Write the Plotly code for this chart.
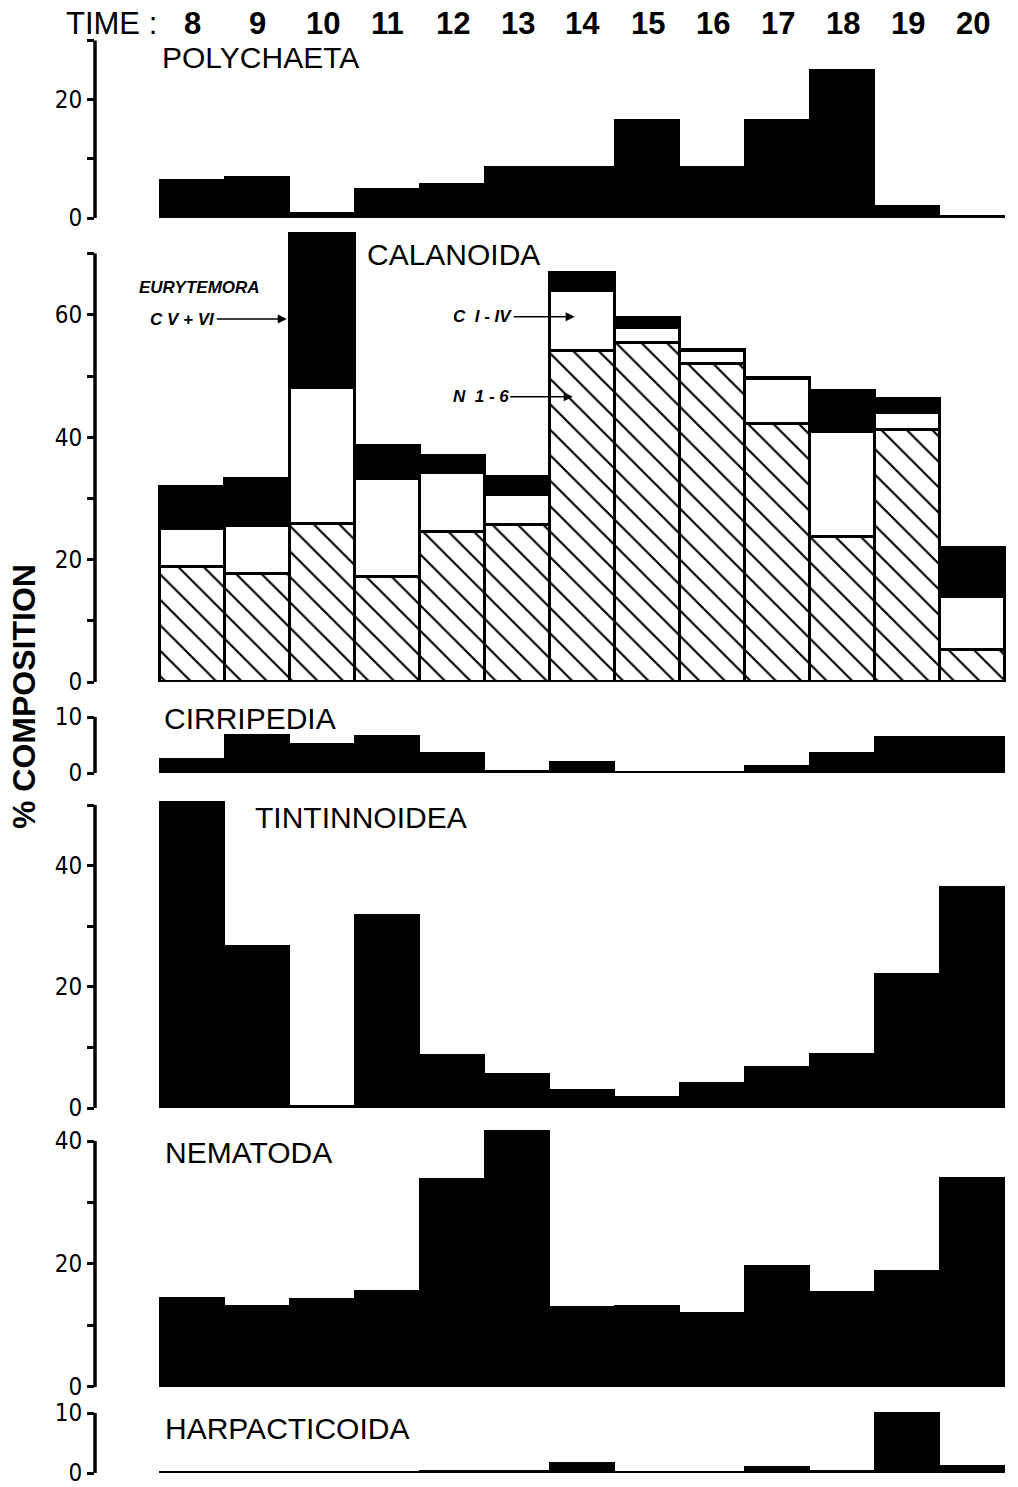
import plotly.graph_objects as go

W, H = 1018, 1487

# ---------------- data ----------------
times = [8, 9, 10, 11, 12, 13, 14, 15, 16, 17, 18, 19, 20]
time_labels = [str(t) for t in times]

polychaeta = [6.3, 6.8, 0.8, 4.9, 5.6, 8.5, 8.5, 16.4, 8.5, 16.4, 25.0, 2.0, 0.3]

# Calanoida, stacked components
cal_n1_6 = [18.8, 17.7, 25.8, 17.2, 24.5, 25.6, 54.0, 55.4, 52.0, 42.1, 23.7, 41.1, 5.2]
cal_c1_4 = [6.2, 7.7, 22.2, 16.0, 9.6, 4.9, 9.8, 2.4, 2.0, 7.4, 17.1, 2.9, 8.7]
cal_cv_vi = [6.9, 7.7, 25.2, 5.3, 2.8, 2.9, 3.0, 1.7, 0.3, 0.2, 6.8, 2.3, 8.0]

cirripedia = [2.5, 6.8, 5.2, 6.6, 3.6, 0.4, 2.0, 0.1, 0.1, 1.3, 3.6, 6.4, 6.4]
tintinnoidea = [50.5, 26.7, 0.3, 31.8, 8.8, 5.7, 3.0, 1.8, 4.1, 6.8, 8.9, 22.1, 36.4]
nematoda = [14.5, 13.2, 14.4, 15.7, 33.9, 41.7, 13.0, 13.3, 12.1, 19.8, 15.5, 18.9, 34.1]
harpacticoida = [0.2, 0.2, 0.2, 0.2, 0.3, 0.3, 1.7, 0.2, 0.2, 0.9, 0.3, 10.0, 1.1]

panel_names = ["POLYCHAETA", "CALANOIDA", "CIRRIPEDIA", "TINTINNOIDEA", "NEMATODA", "HARPACTICOIDA"]

# ---------------- layout geometry (pixels) ----------------
X_LEFT, X_RIGHT = 95, 1008
X_RANGE = [6.5, 6.5 + (X_RIGHT - X_LEFT) / 65.0]

geo = [
    dict(zero=218, scale=5.92, rmax=30.5, amax=30, tv=[0, 10, 20, 30], tt=["0", "", "20", ""]),
    dict(zero=682, scale=6.12, rmax=74, amax=70, tv=[0, 10, 20, 30, 40, 50, 60, 70],
         tt=["0", "", "20", "", "40", "", "60", ""]),
    dict(zero=773, scale=5.6, rmax=10, amax=10, tv=[0, 10], tt=["0", "10"]),
    dict(zero=1108, scale=6.06, rmax=51, amax=50, tv=[0, 10, 20, 30, 40, 50],
         tt=["0", "", "20", "", "40", ""]),
    dict(zero=1387, scale=6.15, rmax=42.5, amax=40, tv=[0, 10, 20, 30, 40],
         tt=["0", "", "20", "", "40"]),
    dict(zero=1473, scale=6.0, rmax=10.3, amax=10, tv=[0, 10], tt=["0", "10"]),
]

title_pos = [(160, 57), (365, 254), (162, 718), (253, 817), (163, 1152), (163, 1428)]

NARROW = "Liberation Sans Narrow, DejaVu Sans Condensed, Arial Narrow, sans-serif"
SANS = "Liberation Sans, Arial, sans-serif"

fig = go.Figure()

def ax(i):
    return ("x", "y") if i == 1 else (f"x{i}", f"y{i}")

solid = dict(color="black", line=dict(color="black", width=1))

single = {1: polychaeta, 3: cirripedia, 4: tintinnoidea, 5: nematoda, 6: harpacticoida}
for i, vals in single.items():
    xa, ya = ax(i)
    fig.add_trace(go.Bar(x=times, y=vals, xaxis=xa, yaxis=ya, width=1,
                         marker=solid, showlegend=False))

xa, ya = ax(2)
fig.add_trace(go.Bar(x=times, y=cal_n1_6, xaxis=xa, yaxis=ya, width=1, name="N 1-6",
                     marker=dict(color="white", line=dict(color="black", width=3.5),
                                 pattern=dict(shape="\\", fgcolor="black", bgcolor="white",
                                              size=18, solidity=0.12, fillmode="replace")),
                     showlegend=False))
fig.add_trace(go.Bar(x=times, y=cal_c1_4, xaxis=xa, yaxis=ya, width=1, name="C I-IV",
                     marker=dict(color="white", line=dict(color="black", width=3.5)),
                     showlegend=False))
fig.add_trace(go.Bar(x=times, y=cal_cv_vi, xaxis=xa, yaxis=ya, width=1, name="CV+VI",
                     marker=dict(color="black", line=dict(color="black", width=3.5)),
                     showlegend=False))

layout = dict(
    width=W, height=H,
    margin=dict(l=0, r=0, t=0, b=0),
    paper_bgcolor="white", plot_bgcolor="white",
    barmode="stack", bargap=0,
    showlegend=False,
    font=dict(family=SANS, color="black"),
)

shapes = []
annotations = []
for i, g in enumerate(geo, start=1):
    top_px = g["zero"] - g["rmax"] * g["scale"]
    dom_y = [1 - g["zero"] / H, 1 - top_px / H]
    xkey = "xaxis" if i == 1 else f"xaxis{i}"
    ykey = "yaxis" if i == 1 else f"yaxis{i}"
    xa, ya = ax(i)
    layout[xkey] = dict(domain=[X_LEFT / W, X_RIGHT / W], range=X_RANGE, anchor=ya,
                        showgrid=False, zeroline=False, showline=False, ticks="",
                        showticklabels=False, fixedrange=True)
    layout[ykey] = dict(domain=dom_y, range=[0, g["rmax"]], anchor=xa,
                        showgrid=False, zeroline=False, showline=False,
                        ticks="outside", ticklen=7, tickwidth=2.5, tickcolor="black",
                        tickmode="array", tickvals=g["tv"], ticktext=g["tt"],
                        tickfont=dict(family=NARROW, size=24, color="black"),
                        ticklabeloverflow="allow",
                        fixedrange=True, automargin=False)
    shapes.append(dict(type="line", xref=f"{xa} domain", yref=ya, x0=0, x1=0,
                       y0=0, y1=g["amax"], line=dict(color="black", width=3.5)))
    tx, ty = title_pos[i - 1]
    annotations.append(dict(text=panel_names[i - 1], xref="paper", yref="paper",
                            x=tx / W, y=1 - ty / H, xanchor="left", yanchor="middle",
                            showarrow=False,
                            font=dict(family=SANS, size=30, color="black")))

# time labels on top, placed on the first panel's x scale
for t, lab in zip(times, time_labels):
    annotations.append(dict(text=lab, xref="x", yref="paper", x=t, y=1 - 24 / H,
                            xanchor="center", yanchor="middle", showarrow=False,
                            font=dict(family=SANS, size=31, color="black", weight="bold")))

annotations.append(dict(text="TIME :", xref="paper", yref="paper", x=64 / W, y=1 - 24 / H,
                        xanchor="left", yanchor="middle", showarrow=False,
                        font=dict(family=SANS, size=31, color="black")))
annotations.append(dict(text="% COMPOSITION", xref="paper", yref="paper", x=24 / W,
                        y=1 - 697 / H, xanchor="center", yanchor="middle", textangle=-90,
                        showarrow=False,
                        font=dict(family=SANS, size=32, color="black", weight="bold")))

# Calanoida stage labels
lab_font = dict(family=SANS, size=17, color="black", style="italic", weight="bold")
annotations.append(dict(text="EURYTEMORA", xref="x2", yref="y2", x=8.1, y=64.4,
                        showarrow=False, font=lab_font))
annotations.append(dict(text="C V + VI", xref="x2", yref="y2", x=9.45, y=59.3,
                        ax=-104, ay=0, showarrow=True, arrowhead=2, arrowsize=1.2,
                        arrowwidth=1.5, arrowcolor="black", font=lab_font))
annotations.append(dict(text="C  I - IV", xref="x2", yref="y2", x=13.88, y=59.7,
                        ax=-92, ay=0, showarrow=True, arrowhead=2, arrowsize=1.2,
                        arrowwidth=1.5, arrowcolor="black", font=lab_font))
annotations.append(dict(text="N  1 - 6", xref="x2", yref="y2", x=13.85, y=46.6,
                        ax=-92, ay=0, showarrow=True, arrowhead=2, arrowsize=1.2,
                        arrowwidth=1.5, arrowcolor="black", font=lab_font))

layout["shapes"] = shapes
layout["annotations"] = annotations
fig.update_layout(**layout)

fig.write_html("out.html")
